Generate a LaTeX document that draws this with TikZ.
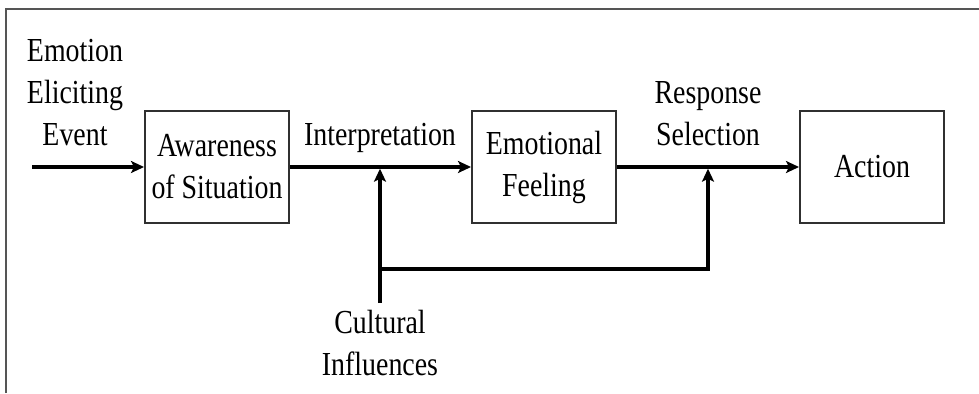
\documentclass[tikz,border=0pt]{standalone}
\usepackage{fontspec}
\setmainfont{Liberation Serif}[FakeStretch=0.83]
\usepackage{tikz}
\usetikzlibrary{arrows.meta}
\definecolor{framegray}{HTML}{555555}
\definecolor{boxgray}{HTML}{303030}
\newcommand{\figfont}{\fontsize{16.8}{21}\selectfont}

\begin{document}
\begin{tikzpicture}[x=0.5pt,y=0.5pt,
  stage/.style={draw=boxgray,line width=1pt,minimum width=72pt,minimum height=56pt,inner sep=0pt,align=center,font=\figfont},
  lbl/.style={align=center,inner sep=0pt,font=\figfont},
  flow/.style={line width=1.7pt,-{Stealth[length=6.5pt,width=6pt,inset=1.5pt]}}]
\useasboundingbox (0,0) rectangle (979,393);
\draw[framegray,line width=1pt] (5.5,0) -- (5.5,384) -- (979,384);
\node[stage] (aware) at (217,226) {Awareness\\of Situation};
\node[stage] (feel) at (544,226) {Emotional\\Feeling};
\node[stage] (action) at (872,226) {Action};
\node[lbl] (event) at (75,300) {Emotion\\Eliciting\\Event};
\node[lbl,anchor=base] (interp) at (380,248) {Interpretation};
\node[lbl] (resp) at (708,279) {Response\\Selection};
\node[lbl] (culture) at (380,50) {Cultural\\Influences};
\coordinate (in) at (32,226);
\coordinate (split) at (380,124);
\coordinate (bottom) at (380,90);
\draw[flow] (in) -- (aware);
\draw[flow] (aware) -- (feel);
\draw[flow] (feel) -- (action);
\draw[flow,shorten >=0.85pt] (bottom) -- (bottom |- aware.east);
\draw[flow,shorten >=0.85pt] (split) -| (resp.south |- feel.east);
\end{tikzpicture}
\end{document}
